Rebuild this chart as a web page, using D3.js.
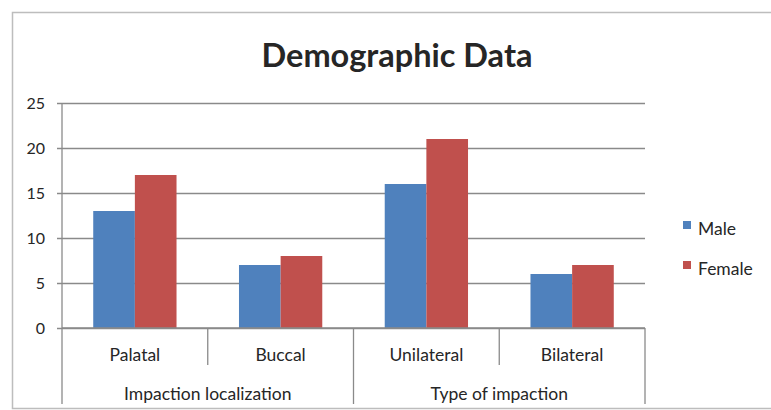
<!DOCTYPE html>
<html>
<head>
<meta charset="utf-8">
<script src="https://cdn.jsdelivr.net/npm/d3@7"></script>
<style>
  body { margin: 0; background: #fff; }
  text { font-family: Lato, "Open Sans", sans-serif; fill: #262626; }
</style>
</head>
<body>
<svg id="chart" width="771" height="410"></svg>
<script>
// data
var categories = ['Palatal', 'Buccal', 'Unilateral', 'Bilateral'];
var groups = ['Impaction localization', 'Type of impaction'];
var groupOf = [0, 0, 1, 1];
var seriesNames = ['Male', 'Female'];
var male = [13, 7, 16, 6];
var female = [17, 8, 21, 7];
var yTicks = [0, 5, 10, 15, 20, 25];
var colors = ['#4f81bd', '#c0504d'];

var svg = d3.select('#chart');
var plot = { left: 62, right: 645, top: 103, bottom: 328 };

// chart area border (open on the right, like the crop)
svg.append('path')
  .attr('d', 'M771,12.5 H12.5 V408.5 H771')
  .attr('fill', 'none').attr('stroke', '#bdbdbd').attr('stroke-width', 1.5);

var x = d3.scaleBand().domain(categories).range([plot.left, plot.right]).paddingInner(0).paddingOuter(0);
var y = d3.scaleLinear().domain([0, 25]).range([plot.bottom, plot.top]);
var bw = x.bandwidth() / 3.5;
var xs = d3.scaleBand().domain(seriesNames).range([0.75 * bw, 2.75 * bw]);

// gridlines + ticks
var yAxis = d3.axisLeft(y).tickValues(yTicks).tickSize(-(plot.right - plot.left) - 5).tickPadding(12);
var ya = svg.append('g').attr('transform', 'translate(' + (plot.left) + ',0)').call(yAxis);
ya.select('.domain').remove();
ya.selectAll('.tick line').attr('x1', -5).attr('x2', plot.right - plot.left).attr('stroke', '#8a8a8a').attr('stroke-width', 1.3);
ya.selectAll('.tick text').attr('x', -17).style('font-size', '16px').style('font-family', 'Lato, sans-serif').attr('fill', '#262626');

// bars
var rows = categories.map(function(c, i) { return { cat: c, vals: [male[i], female[i]] }; });
var cg = svg.append('g').selectAll('g').data(rows).enter().append('g')
  .attr('transform', function(d) { return 'translate(' + x(d.cat) + ',0)'; });
cg.selectAll('rect').data(function(d) { return d.vals.map(function(v, j) { return { v: v, s: seriesNames[j], j: j }; }); })
  .enter().append('rect')
  .attr('x', function(d) { return xs(d.s); })
  .attr('width', xs.bandwidth())
  .attr('y', function(d) { return y(d.v); })
  .attr('height', function(d) { return y(0) - y(d.v); })
  .attr('fill', function(d) { return colors[d.j]; });

// axis lines
svg.append('line').attr('x1', plot.left).attr('x2', plot.left).attr('y1', plot.top).attr('y2', plot.bottom)
  .attr('stroke', '#8a8a8a').attr('stroke-width', 1.3);
svg.append('line').attr('x1', plot.left).attr('x2', plot.right).attr('y1', plot.bottom).attr('y2', plot.bottom)
  .attr('stroke', '#8a8a8a').attr('stroke-width', 1.3);

// category dividers
var bounds = categories.map(function(c) { return x(c); }).concat([plot.right]);
svg.append('g').selectAll('line').data(bounds).enter().append('line')
  .attr('x1', function(d) { return d; }).attr('x2', function(d) { return d; })
  .attr('y1', plot.bottom)
  .attr('y2', function(d, i) { return (i === 0 || i === categories.length || groupOf[i] !== groupOf[i - 1]) ? 404 : 365; })
  .attr('stroke', '#8a8a8a').attr('stroke-width', 1.3);

svg.append('g').selectAll('text').data(categories).enter().append('text')
  .attr('x', function(d) { return x(d) + x.bandwidth() / 2; })
  .attr('y', 361).attr('text-anchor', 'middle').style('font-size', '17.5px')
  .text(function(d) { return d; });

svg.append('g').selectAll('text').data(groups).enter().append('text')
  .attr('x', function(d, g) {
    var idx = categories.filter(function(c, i) { return groupOf[i] === g; });
    return (x(idx[0]) + x(idx[idx.length - 1]) + x.bandwidth()) / 2;
  })
  .attr('y', 400).attr('text-anchor', 'middle').style('font-size', '17.5px')
  .text(function(d) { return d; });

// title
svg.append('text').attr('x', 397).attr('y', 67).attr('text-anchor', 'middle')
  .style('font-size', '32.5px').style('font-weight', 'bold').attr('fill', '#111')
  .text('Demographic Data');

// legend
var lg = svg.append('g').selectAll('g').data(seriesNames).enter().append('g')
  .attr('transform', function(d, i) { return 'translate(683,' + (221 + i * 40) + ')'; });
lg.append('rect').attr('width', 8).attr('height', 8).attr('fill', function(d, i) { return colors[i]; });
lg.append('text').attr('x', 15).attr('y', 14).style('font-size', '17.5px').text(function(d) { return d; });
</script>
</body>
</html>
